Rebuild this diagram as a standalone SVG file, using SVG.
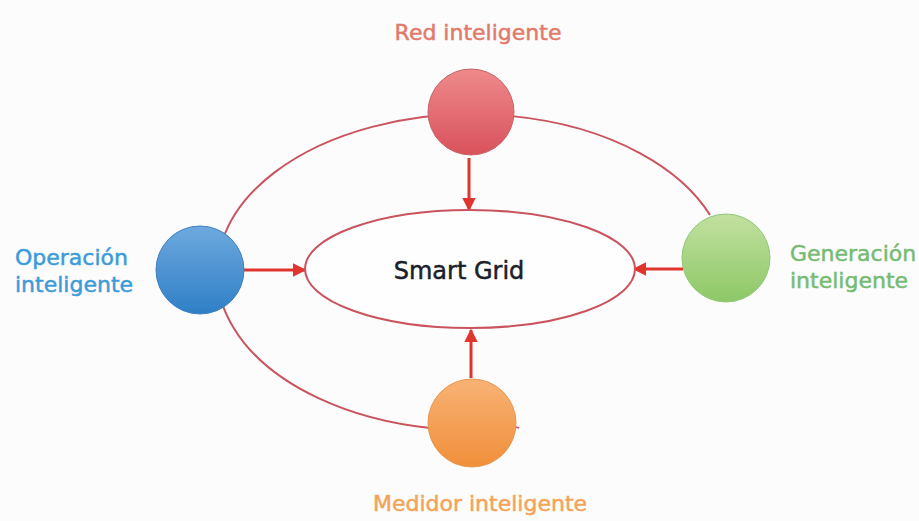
<svg xmlns="http://www.w3.org/2000/svg" width="919" height="521" viewBox="0 0 919 521">
<defs>
<linearGradient id="gRed" x1="0" y1="0" x2="0" y2="1"><stop offset="0" stop-color="#ee8a8a"/><stop offset="1" stop-color="#d9525c"/></linearGradient>
<linearGradient id="gBlue" x1="0" y1="0" x2="0" y2="1"><stop offset="0" stop-color="#6ea9de"/><stop offset="1" stop-color="#2f7fc6"/></linearGradient>
<linearGradient id="gGreen" x1="0" y1="0" x2="0" y2="1"><stop offset="0" stop-color="#c2e0a0"/><stop offset="1" stop-color="#8dc866"/></linearGradient>
<linearGradient id="gOrange" x1="0" y1="0" x2="0" y2="1"><stop offset="0" stop-color="#f8b275"/><stop offset="1" stop-color="#f08f3a"/></linearGradient>
<marker id="ah" viewBox="0 0 10 10" refX="9" refY="5" markerWidth="4.5" markerHeight="4.5" orient="auto" markerUnits="strokeWidth"><path d="M0,0 L10,5 L0,10 z" fill="#e0352e"/></marker>
</defs>
<style>
text{font-family:"DejaVu Sans","Liberation Sans",sans-serif;font-size:22px;stroke-width:0.5}
.ring{fill:none;stroke:#c9545e;stroke-width:2}
.arrow{stroke:#e0352e;stroke-width:3;fill:none;marker-end:url(#ah)}
.node{stroke-width:1}
</style>
<rect width="919" height="521" fill="#fcfcfd"/>
<g id="connectors">
<path class="ring" d="M710,215 A255,158 0 1 0 430,428"/>
<line x1="516" y1="427" x2="519" y2="428" stroke="#c9545e" stroke-width="1.5"/>
<line class="arrow" x1="469" y1="158" x2="469" y2="210"/>
<line class="arrow" x1="244" y1="270" x2="305" y2="270"/>
<line class="arrow" x1="683" y1="269" x2="634" y2="269"/>
<line class="arrow" x1="471" y1="378" x2="471" y2="330"/>
</g>
<g id="smart-grid">
<ellipse cx="470" cy="269" rx="165" ry="59" fill="#fefefe" stroke="#c9545e" stroke-width="2"/>
<text x="459" y="279" text-anchor="middle" fill="#1b1f2a" stroke="#1b1f2a" style="font-size:24px">Smart Grid</text>
</g>
<g id="red">
<circle class="node" cx="471" cy="112" r="43" fill="url(#gRed)" stroke="#c9606a"/>
<text x="478" y="40" text-anchor="middle" fill="#e27a6c" stroke="#e27a6c">Red inteligente</text>
</g>
<g id="operacion">
<circle class="node" cx="200" cy="270" r="44" fill="url(#gBlue)" stroke="#3d80c0"/>
<text x="15" y="265" fill="#3d9bd8" stroke="#3d9bd8">Operación</text>
<text x="15" y="292" fill="#3d9bd8" stroke="#3d9bd8">inteligente</text>
</g>
<g id="generacion">
<circle class="node" cx="726" cy="258" r="44" fill="url(#gGreen)" stroke="#90c878"/>
<text x="790" y="261" fill="#76bb74" stroke="#76bb74">Generación</text>
<text x="790" y="288" fill="#76bb74" stroke="#76bb74">inteligente</text>
</g>
<g id="medidor">
<circle class="node" cx="472" cy="423" r="44" fill="url(#gOrange)" stroke="#e8954a"/>
<text x="480" y="511" text-anchor="middle" fill="#f4a458" stroke="#f4a458">Medidor inteligente</text>
</g>
</svg>
